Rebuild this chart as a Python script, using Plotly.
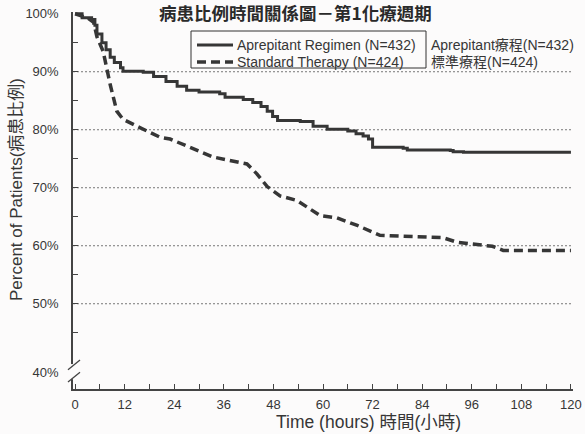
import plotly.graph_objects as go

# ---- data ----
apr_hours = [0, 1.7, 4, 4.8, 5.3, 6.5, 7.5, 8.5, 9.5, 11, 11.6, 16.5, 19, 22, 24.7, 27, 30, 35,
             36.3, 40.7, 43, 45, 46.5, 47.8, 49, 54.5, 57.6, 61, 66, 68, 69.7, 71, 72, 79.4,
             80.4, 90.8, 91.5, 94, 120]
apr_pct = [100, 99.3, 99.0, 98.0, 96.5, 95.0, 93.8, 92.5, 91.6, 90.7, 90.1, 89.9, 89.2, 88.3, 87.5,
           86.8, 86.5, 86.2, 85.6, 85.2, 84.7, 84.0, 83.2, 82.3, 81.6, 81.4, 80.6, 80.1, 79.8,
           79.3, 78.9, 78.4, 77.0, 76.8, 76.5, 76.4, 76.2, 76.1, 76.1]

std_hours = [0, 3, 4.5, 5.3, 6.8, 8.5, 10.1, 11.6, 15, 18, 20.6, 23, 28.6, 33.4, 41.6, 44, 46.5,
             49.6, 53.7, 59.3, 63.4, 68.3, 73.8, 89, 92.5, 101, 103.6, 120]
std_pct = [100, 99.3, 98.5, 96.0, 93.5, 87.8, 83.2, 81.8, 80.6, 79.6, 78.7, 78.4, 76.8, 75.3, 74.1,
           72.4, 70.2, 68.6, 67.8, 65.2, 64.8, 63.5, 61.8, 61.4, 60.6, 59.9, 59.2, 59.2]

series_names = ["Aprepitant Regimen (N=432)", "Standard Therapy (N=424)"]
series_names_zh = ["Aprepitant療程(N=432)", "標準療程(N=424)"]

x_tickvals = [0, 12, 24, 36, 48, 60, 72, 84, 96, 108, 120]
x_minor = [6 * i for i in range(21)]
y_tickvals = [38.2, 50, 60, 70, 80, 90, 100]
y_ticktext = ["40%", "50%", "60%", "70%", "80%", "90%", "100%"]
y_minor = [45, 50, 55, 60, 65, 70, 75, 80, 85, 90, 95]
grid_vals = [50, 60, 70, 80, 90]

title_text = "病患比例時間關係圖－第1化療週期"
x_title = "Time (hours) 時間(小時)"
y_title = "Percent of Patients(病患比例)"

# ---- layout geometry ----
W, H = 585, 434
L, R, T, B = 73, 12, 12, 45
PW, PH = W - L - R, H - T - B


def px_x(px):
    return (px - L) / PW


def px_y(py):
    return (H - B - py) / PH


FONT = "Liberation Sans, Arial, Noto Sans CJK TC, sans-serif"
INK = "#363636"
BG = "#fcfbfb"
line_styles = [dict(color=INK, width=3), dict(color=INK, width=3.5, dash="9px,5px")]

fig = go.Figure()
fig.add_trace(go.Scatter(x=apr_hours, y=apr_pct, mode="lines", name=series_names[0],
                         line=dict(shape="hv", **line_styles[0])))
fig.add_trace(go.Scatter(x=std_hours, y=std_pct, mode="lines", name=series_names[1],
                         line=line_styles[1]))

for g in grid_vals:
    fig.add_hline(y=g, line=dict(color="#777", width=1, dash="2px,2px"), layer="below")

# axis break marks on the y axis
fig.add_shape(type="rect", xref="paper", yref="y", x0=-0.012, x1=0.012, y0=37.0, y1=39.6,
              fillcolor=BG, line=dict(width=0), layer="above")
for (ya, yb) in [(38.6, 40.3), (36.5, 38.2)]:
    fig.add_shape(type="line", xref="paper", yref="y", x0=px_x(68), x1=px_x(80), y0=ya, y1=yb,
                  line=dict(color="#444", width=1.3), layer="above")

# legend box (drawn by hand to match the compact original)
fig.add_shape(type="rect", xref="paper", yref="paper", x0=px_x(191), x1=px_x(426),
              y0=px_y(68), y1=px_y(31), line=dict(color="#333", width=1), fillcolor="rgba(0,0,0,0)")
for i, name in enumerate(series_names):
    yy = px_y(45 + 17 * i)
    fig.add_shape(type="line", xref="paper", yref="paper", x0=px_x(197), x1=px_x(233),
                  y0=yy, y1=yy, line=line_styles[i])
    fig.add_annotation(text=name, xref="paper", yref="paper", x=px_x(235), y=yy,
                       showarrow=False, xanchor="left", yanchor="middle",
                       font=dict(size=14, color=INK, family=FONT))
    fig.add_annotation(text=series_names_zh[i], xref="paper", yref="paper", x=px_x(429), y=yy,
                       showarrow=False, xanchor="left", yanchor="middle",
                       font=dict(size=14, color=INK, family=FONT))

fig.add_annotation(text="<b>" + title_text + "</b>", xref="paper", yref="paper",
                   x=px_x(295), y=px_y(12), showarrow=False, xanchor="center", yanchor="middle",
                   font=dict(size=17.5, color="#2a2a2a", family="Noto Sans CJK TC, sans-serif"))
fig.add_annotation(text=x_title, xref="paper", yref="paper", x=px_x(368), y=px_y(434),
                   showarrow=False, xanchor="center", yanchor="bottom",
                   font=dict(size=17.5, color=INK, family=FONT))
fig.add_annotation(text=y_title, xref="paper", yref="paper", x=px_x(16), y=px_y(190),
                   showarrow=False, xanchor="center", yanchor="middle", textangle=-90,
                   font=dict(size=17, color=INK, family=FONT))

fig.update_layout(
    width=W, height=H,
    margin=dict(l=L, r=R, t=T, b=B, autoexpand=False),
    paper_bgcolor=BG, plot_bgcolor=BG,
    font=dict(family=FONT, color=INK, size=13),
    showlegend=False,
    xaxis=dict(range=[-0.5, 120.5], showgrid=False, zeroline=False,
               showline=True, linecolor="#444", linewidth=1.5,
               tickmode="array", tickvals=x_tickvals, ticks="inside", ticklen=5,
               tickcolor="#444", ticklabelstandoff=3,
               minor=dict(tickmode="array", tickvals=x_minor, ticks="inside", ticklen=5,
                          tickcolor="#444", showgrid=False),
               tickfont=dict(size=13, color=INK)),
    yaxis=dict(range=[35.3, 100.3], showgrid=False, zeroline=False,
               showline=True, linecolor="#444", linewidth=1.5,
               tickmode="array", tickvals=y_tickvals, ticktext=y_ticktext, ticks="",
               ticklabelstandoff=10,
               minor=dict(tickmode="array", tickvals=y_minor, ticks="inside", ticklen=5,
                          tickcolor="#444", showgrid=False),
               tickfont=dict(size=13, color=INK)),
)

fig.write_html("out.html", config={"displayModeBar": False},
               post_script="document.body.style.margin='0px';document.body.style.padding='0px';"
                           "document.body.style.overflow='hidden';")
